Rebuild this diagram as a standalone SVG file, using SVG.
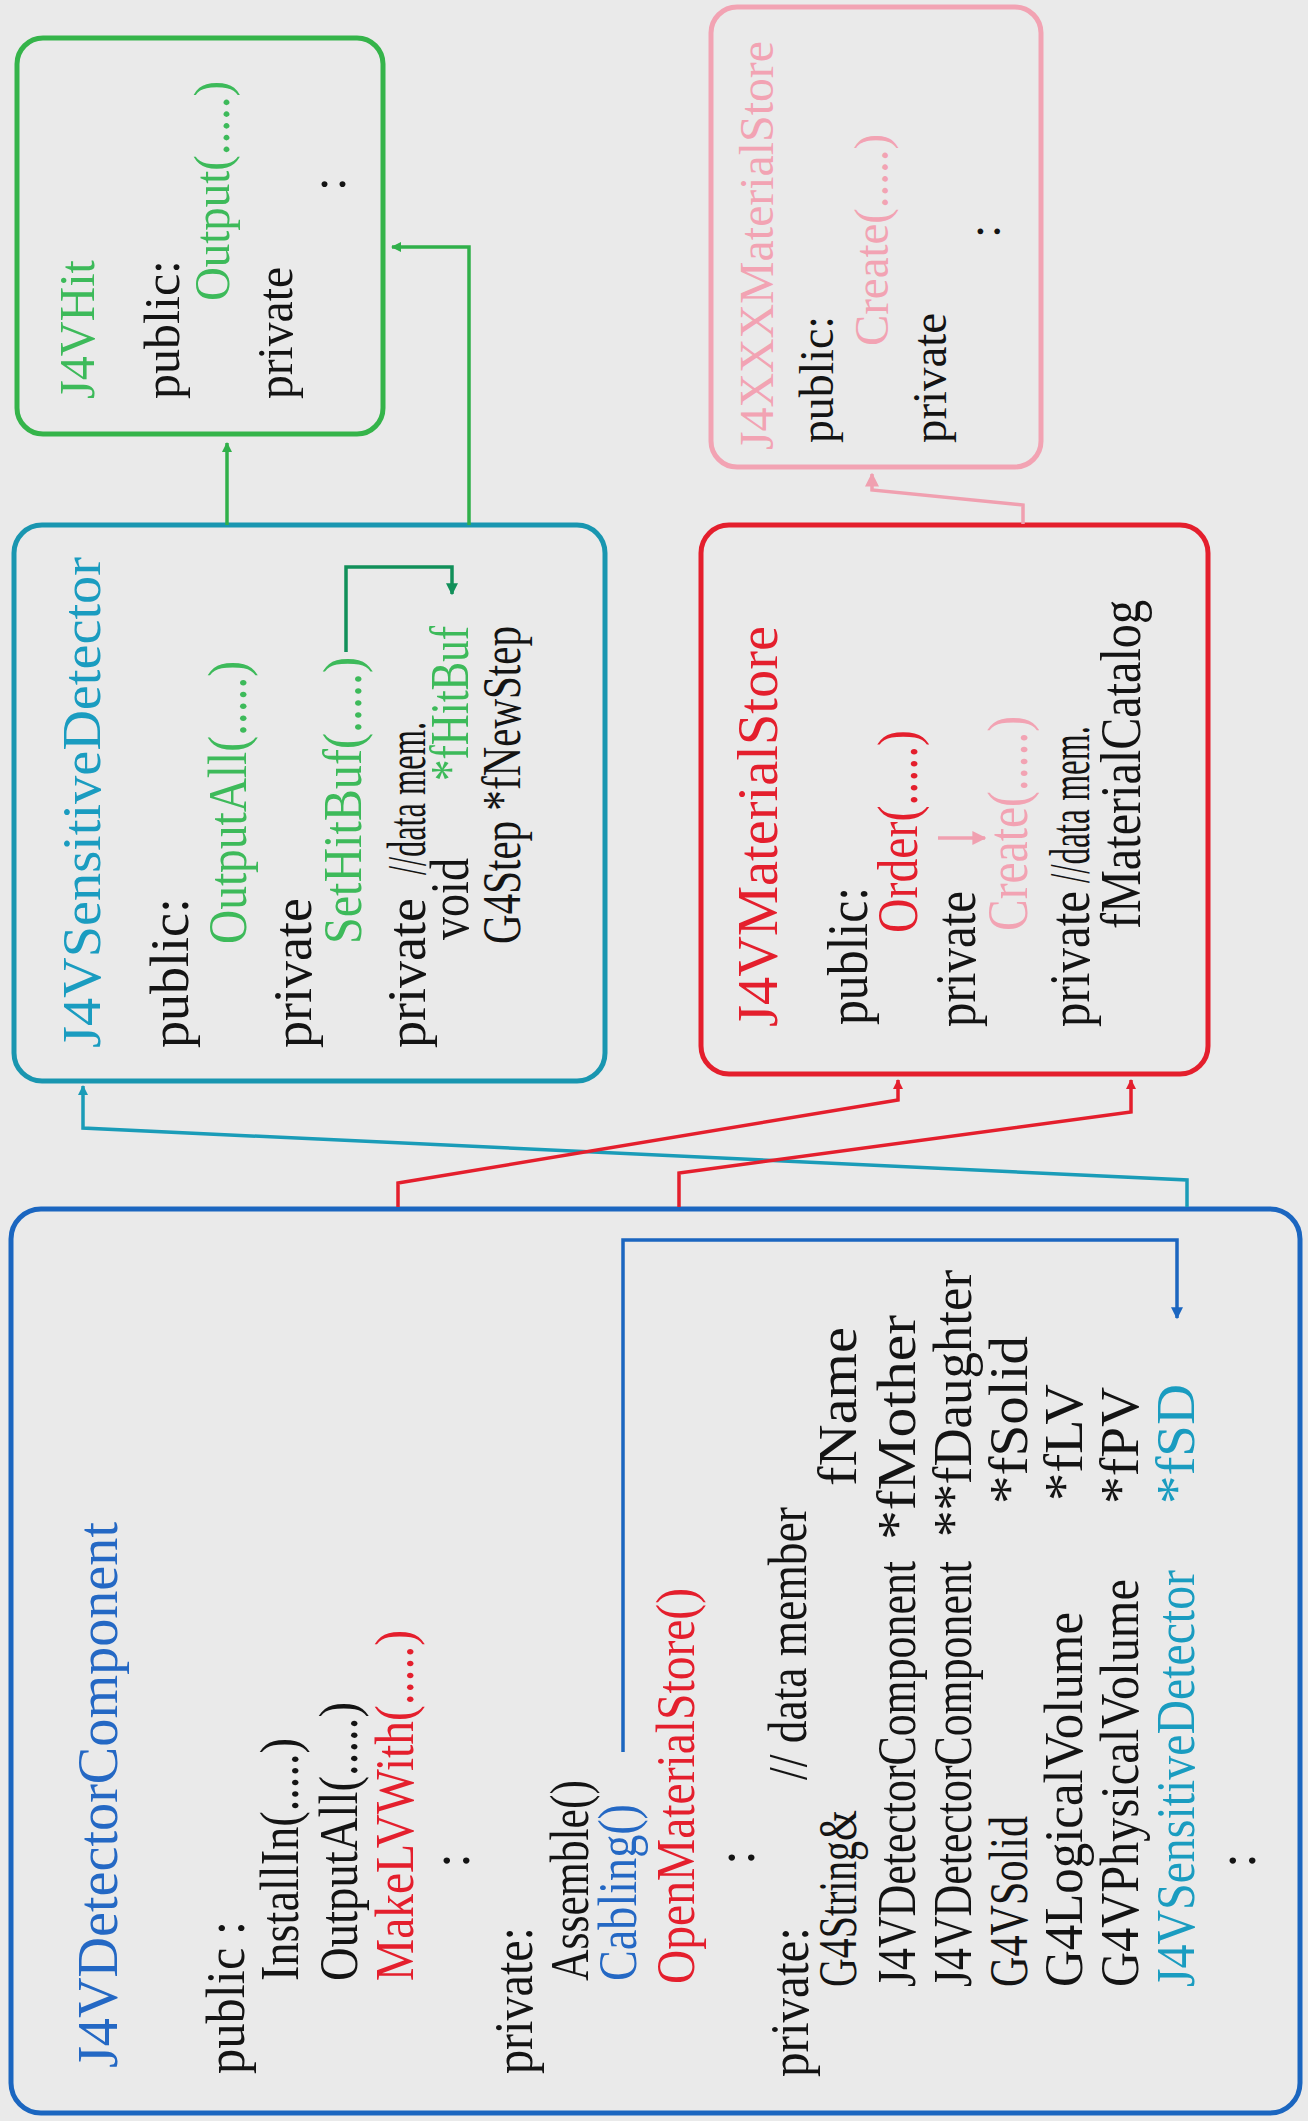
<svg xmlns="http://www.w3.org/2000/svg" width="1308" height="2121" viewBox="0 0 1308 2121">
<style>
text{font-family:"Liberation Serif","Times New Roman",serif;fill:#141414}
.box{fill:none;stroke-width:5}
.c{fill:none;stroke-width:3.5}
.g{fill:#3dba5a}.t{fill:#1a9cc0}.r{fill:#e41f2d}.p{fill:#f2a3b3}.b{fill:#2468c4}
</style>
<defs>
<marker id="aG" viewBox="0 0 10 10" refX="9" refY="5" markerWidth="10" markerHeight="10" markerUnits="userSpaceOnUse" orient="auto"><path d="M0 0L10 5L0 10z" fill="#30b04a"/></marker>
<marker id="aD" viewBox="0 0 10 10" refX="9" refY="5" markerWidth="12" markerHeight="12" markerUnits="userSpaceOnUse" orient="auto"><path d="M0 0L10 5L0 10z" fill="#12905a"/></marker>
<marker id="aT" viewBox="0 0 10 10" refX="9" refY="5" markerWidth="10" markerHeight="10" markerUnits="userSpaceOnUse" orient="auto"><path d="M0 0L10 5L0 10z" fill="#1a9cb8"/></marker>
<marker id="aR" viewBox="0 0 10 10" refX="9" refY="5" markerWidth="10" markerHeight="10" markerUnits="userSpaceOnUse" orient="auto"><path d="M0 0L10 5L0 10z" fill="#e41f2d"/></marker>
<marker id="aP" viewBox="0 0 10 10" refX="9" refY="5" markerWidth="14" markerHeight="14" markerUnits="userSpaceOnUse" orient="auto"><path d="M0 0L10 5L0 10z" fill="#f0a0b0"/></marker>
<marker id="aB" viewBox="0 0 10 10" refX="9" refY="5" markerWidth="12" markerHeight="12" markerUnits="userSpaceOnUse" orient="auto"><path d="M0 0L10 5L0 10z" fill="#1b66c0"/></marker>
</defs>
<rect width="1308" height="2121" fill="#eaeaea"/>

<g id="J4VHit">
<rect class="box" x="17" y="38" width="366" height="396" rx="26" stroke="#35b44a"/>
<g transform="rotate(-90)" font-size="50">
<text class="g" x="-399" y="94" textLength="139" lengthAdjust="spacingAndGlyphs">J4VHit</text>
<text x="-399" y="179" textLength="139" lengthAdjust="spacingAndGlyphs">public:</text>
<text class="g" x="-301" y="229" textLength="220" lengthAdjust="spacingAndGlyphs">Output(.....)</text>
<text x="-399" y="292" textLength="132" lengthAdjust="spacingAndGlyphs">private</text>
<text x="-191" y="345">:</text>
</g>
</g>

<g id="J4XXXMaterialStore">
<rect class="box" x="711" y="7" width="330" height="460" rx="26" stroke="#f2a3b3" stroke-width="4"/>
<g transform="rotate(-90)" font-size="48">
<text class="p" x="-450" y="773" textLength="409" lengthAdjust="spacingAndGlyphs">J4XXXMaterialStore</text>
<text x="-443" y="833" textLength="127" lengthAdjust="spacingAndGlyphs">public:</text>
<text class="p" x="-346" y="888" textLength="212" lengthAdjust="spacingAndGlyphs">Create(.....)</text>
<text x="-443" y="946" textLength="130" lengthAdjust="spacingAndGlyphs">private</text>
<text x="-238" y="1000">:</text>
</g>
</g>

<g id="J4VSensitiveDetector">
<rect class="box" x="14" y="525" width="591" height="556" rx="28" stroke="#1996b0"/>
<g transform="rotate(-90)" font-size="54">
<text class="t" x="-1048" y="100" textLength="491" lengthAdjust="spacingAndGlyphs">J4VSensitiveDetector</text>
<text x="-1048" y="188" textLength="150" lengthAdjust="spacingAndGlyphs">public:</text>
<text class="g" x="-944" y="246" textLength="283" lengthAdjust="spacingAndGlyphs">OutputAll(.....)</text>
<text x="-1048" y="311" textLength="150" lengthAdjust="spacingAndGlyphs">private</text>
<text class="g" x="-944" y="361" textLength="287" lengthAdjust="spacingAndGlyphs">SetHitBuf(.....)</text>
<text x="-1048" y="425" textLength="150" lengthAdjust="spacingAndGlyphs">private</text>
<text x="-875" y="425" textLength="153" lengthAdjust="spacingAndGlyphs">//data mem.</text>
<text x="-940" y="468" textLength="82" lengthAdjust="spacingAndGlyphs">void</text>
<text class="g" x="-781" y="468" textLength="155" lengthAdjust="spacingAndGlyphs">*fHitBuf</text>
<text x="-944" y="520" textLength="318" lengthAdjust="spacingAndGlyphs">G4Step *fNewStep</text>
</g>
</g>

<g id="J4VMaterialStore">
<rect class="box" x="701" y="525" width="507" height="549" rx="28" stroke="#e41f2d"/>
<g transform="rotate(-90)" font-size="56">
<text class="r" x="-1027" y="777" textLength="401" lengthAdjust="spacingAndGlyphs">J4VMaterialStore</text>
<text x="-1025" y="867" textLength="138" lengthAdjust="spacingAndGlyphs">public:</text>
<text class="r" x="-933" y="917" textLength="203" lengthAdjust="spacingAndGlyphs">Order(.....)</text>
<text x="-1027" y="975" textLength="136" lengthAdjust="spacingAndGlyphs">private</text>
<text class="p" x="-931" y="1027" textLength="215" lengthAdjust="spacingAndGlyphs">Create(.....)</text>
<text x="-1027" y="1089" textLength="136" lengthAdjust="spacingAndGlyphs">private</text>
<text x="-883" y="1089" textLength="157" lengthAdjust="spacingAndGlyphs">//data mem.</text>
<text x="-929" y="1140" textLength="329" lengthAdjust="spacingAndGlyphs">fMaterialCatalog</text>
</g>
</g>

<g id="J4VDetectorComponent">
<rect class="box" x="11" y="1209" width="1289" height="904" rx="30" stroke="#1b66c0"/>
<g transform="rotate(-90)" font-size="54">
<text class="b" x="-2068" y="117" font-size="57" textLength="546" lengthAdjust="spacingAndGlyphs">J4VDetectorComponent</text>
<text x="-2074" y="244" textLength="153" lengthAdjust="spacingAndGlyphs">public :</text>
<text x="-1981" y="298" textLength="243" lengthAdjust="spacingAndGlyphs">InstallIn(.....)</text>
<text x="-1981" y="357" textLength="279" lengthAdjust="spacingAndGlyphs">OutputAll(.....)</text>
<text class="r" x="-1981" y="413" textLength="351" lengthAdjust="spacingAndGlyphs">MakeLVWith(.....)</text>
<text x="-1868" y="469">:</text>
<text x="-2074" y="532" textLength="147" lengthAdjust="spacingAndGlyphs">private:</text>
<text x="-1981" y="588" textLength="201" lengthAdjust="spacingAndGlyphs">Assemble()</text>
<text class="b" x="-1981" y="636" textLength="177" lengthAdjust="spacingAndGlyphs">Cabling()</text>
<text class="r" x="-1984" y="694" textLength="396" lengthAdjust="spacingAndGlyphs">OpenMaterialStore()</text>
<text x="-1865" y="754">:</text>
<text x="-2077" y="808" textLength="150" lengthAdjust="spacingAndGlyphs">private:</text>
<text x="-1780" y="806" textLength="273" lengthAdjust="spacingAndGlyphs">// data member</text>
<text x="-1987" y="856" textLength="177" lengthAdjust="spacingAndGlyphs">G4String&amp;</text>
<text x="-1486" y="856" textLength="159" lengthAdjust="spacingAndGlyphs">fName</text>
<text x="-1987" y="915" textLength="426" lengthAdjust="spacingAndGlyphs">J4VDetectorComponent</text>
<text x="-1540" y="915" textLength="225" lengthAdjust="spacingAndGlyphs">*fMother</text>
<text x="-1987" y="971" textLength="426" lengthAdjust="spacingAndGlyphs">J4VDetectorComponent</text>
<text x="-1537" y="971" textLength="267" lengthAdjust="spacingAndGlyphs">**fDaughter</text>
<text x="-1987" y="1027" textLength="171" lengthAdjust="spacingAndGlyphs">G4VSolid</text>
<text x="-1504" y="1027" textLength="168" lengthAdjust="spacingAndGlyphs">*fSolid</text>
<text x="-1987" y="1082" textLength="375" lengthAdjust="spacingAndGlyphs">G4LogicalVolume</text>
<text x="-1501" y="1082" textLength="117" lengthAdjust="spacingAndGlyphs">*fLV</text>
<text x="-1987" y="1138" textLength="408" lengthAdjust="spacingAndGlyphs">G4VPhysicalVolume</text>
<text x="-1504" y="1138" textLength="117" lengthAdjust="spacingAndGlyphs">*fPV</text>
<text class="t" x="-1987" y="1194" textLength="417" lengthAdjust="spacingAndGlyphs">J4VSensitiveDetector</text>
<text class="t" x="-1504" y="1194" textLength="120" lengthAdjust="spacingAndGlyphs">*fSD</text>
<text x="-1868" y="1255">:</text>
</g>
</g>

<g id="connectors">
<path class="c" d="M227 525V443" stroke="#30b04a" marker-end="url(#aG)"/>
<path class="c" d="M469 525V247H392" stroke="#30b04a" marker-end="url(#aG)"/>
<path class="c" d="M346 652V567H452V594" stroke="#12905a" stroke-width="4" marker-end="url(#aD)"/>
<path class="c" d="M1023 524V505L872 490V474" stroke="#f0a0b0" stroke-width="4" marker-end="url(#aP)"/>
<path class="c" d="M938 838H985" stroke="#f0a0b0" stroke-width="4" marker-end="url(#aP)"/>
<path class="c" d="M1187 1207V1180L83 1128V1086" stroke="#1a9cb8" marker-end="url(#aT)"/>
<path class="c" d="M398 1207V1183L898 1100V1080" stroke="#e41f2d" marker-end="url(#aR)"/>
<path class="c" d="M679 1207V1173L1131 1112V1080" stroke="#e41f2d" marker-end="url(#aR)"/>
<path class="c" d="M623 1752V1240H1177V1318" stroke="#1b66c0" marker-end="url(#aB)"/>
</g>
</svg>
